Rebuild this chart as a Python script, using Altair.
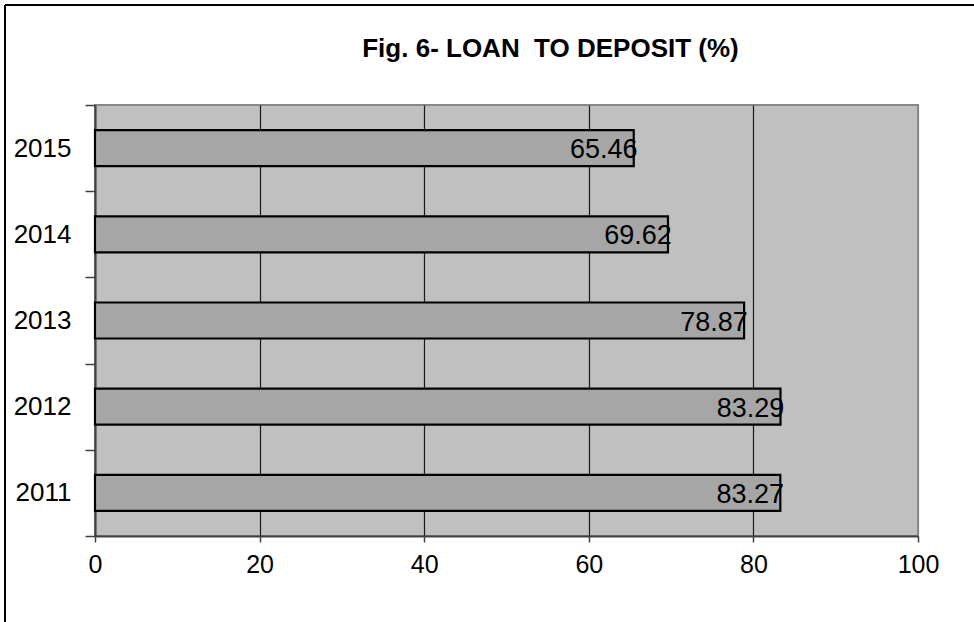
import altair as alt
import pandas as pd

# Loan-to-deposit ratio by year (%)
years = ["2015", "2014", "2013", "2012", "2011"]
ratios = [65.46, 69.62, 78.87, 83.29, 83.27]
x_ticks = [0, 20, 40, 60, 80, 100]

df = pd.DataFrame({"year": years, "ratio": ratios})
df["label"] = df["ratio"].map(lambda v: f"{v:.2f}")

FONT = "Liberation Sans"

y_enc = alt.Y(
    "year:O",
    sort=years,
    title=None,
    scale=alt.Scale(paddingInner=0, paddingOuter=0),
    axis=alt.Axis(
        tickBand="extent",
        tickSize=10,
        tickColor="#404040",
        tickWidth=1.5,
        domainColor="#404040",
        domainWidth=2,
        labelFont=FONT,
        labelFontSize=26,
        labelColor="black",
        labelPadding=14,
        grid=False,
    ),
)

x_enc = alt.X(
    "ratio:Q",
    title=None,
    scale=alt.Scale(domain=[0, 100], nice=False),
    axis=alt.Axis(
        values=x_ticks,
        tickSize=6,
        tickColor="#404040",
        tickWidth=1.5,
        domainColor="#404040",
        domainWidth=2,
        labelFont=FONT,
        labelFontSize=25,
        labelColor="black",
        labelPadding=10,
        labelFlush=False,
        grid=True,
        gridColor=alt.condition("datum.value == 100", alt.value("#888888"), alt.value("#1a1a1a")),
        gridWidth=1.2,
        gridOpacity=1,
    ),
)

bars = alt.Chart(df).mark_bar(
    color="#a6a6a6", stroke="black", strokeWidth=2.2, size=36
).encode(x=x_enc, y=y_enc)

labels = alt.Chart(df).mark_text(
    font=FONT, fontSize=27, color="black", align="center", baseline="middle", dx=-30, dy=2
).encode(x="ratio:Q", y=alt.Y("year:O", sort=years), text="label:N")

# outer frame lines (left and top edges of the figure)
frame_left = alt.Chart(df).mark_rule(color="black", strokeWidth=1.5).encode(
    x=alt.value(-90), y=alt.value(-100), y2=alt.value(530)
)
frame_top = alt.Chart(df).mark_rule(color="black", strokeWidth=1.5).encode(
    x=alt.value(-90), x2=alt.value(880), y=alt.value(-100)
)

chart = (
    alt.layer(bars, labels, frame_left, frame_top)
    .properties(
        width=823,
        height=431,
        title=alt.TitleParams(
            "Fig. 6- LOAN\u00a0 TO DEPOSIT (%)",
            font=FONT,
            fontSize=26,
            fontWeight="bold",
            color="black",
            anchor="middle",
            frame="group",
            dx=44,
            offset=-58,
        ),
        autosize=alt.AutoSizeParams(type="none"),
        padding={"left": 95, "top": 105, "right": 56, "bottom": 86},
        background="white",
    )
    .configure_view(fill="#c0c0c0", stroke="#888888", strokeWidth=2)
)

chart.save("out.html", embed_options={"renderer": "svg", "actions": False})
